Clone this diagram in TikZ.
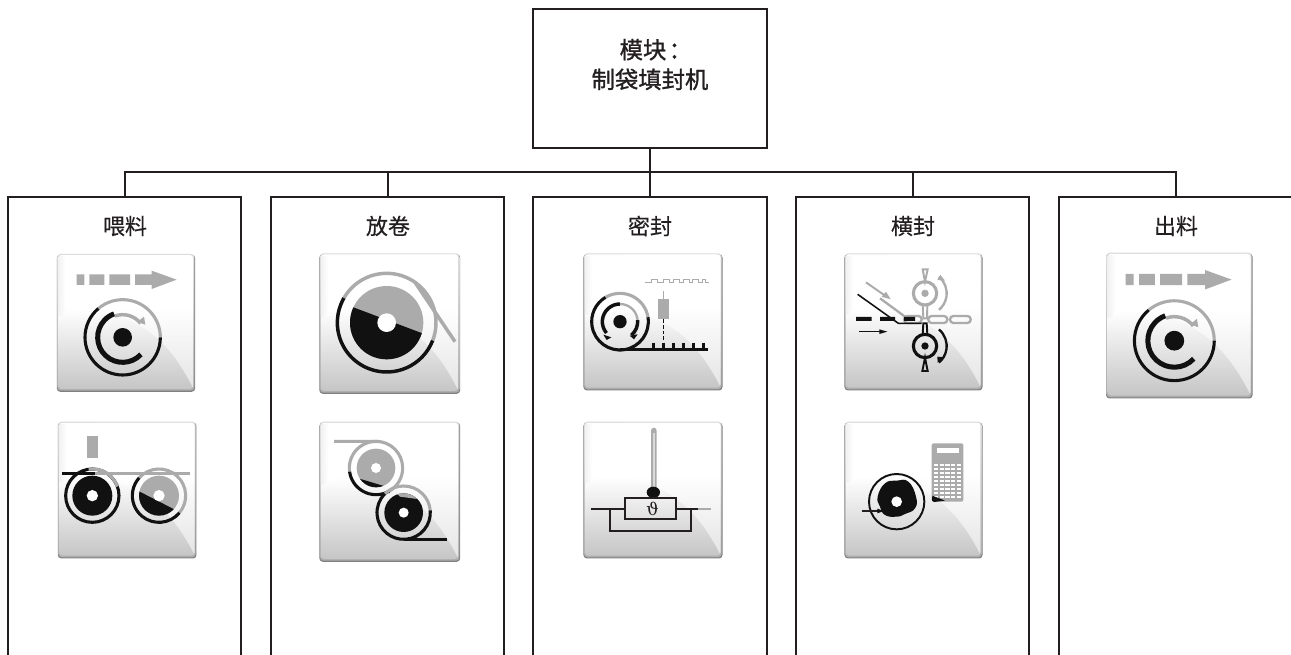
\documentclass[tikz,border=0pt]{standalone}
\usepackage{fontspec}
\setmainfont{Noto Sans CJK SC}
\newfontfamily\ttlfont[FakeBold=1.2]{Noto Sans CJK SC}
\newfontfamily\labfont[FakeBold=0.4]{Noto Sans CJK SC}
\newfontfamily\thetafont{DejaVu Serif}
\definecolor{ln}{HTML}{231F20}
\definecolor{ik}{HTML}{111111}
\definecolor{ig}{HTML}{ABABAB}
\pgfdeclareverticalshading{tileshade}{100bp}{color(0bp)=(black!23); color(25bp)=(black!23); color(55bp)=(white); color(100bp)=(white)}
\tikzset{
  zw/.style={line width=#1*0.29pt},
  col/.style={draw=ln,line width=1.5pt,minimum width=233*0.75pt,minimum height=520*0.75pt,anchor=north west,inner sep=0pt},
  lab/.style={font=\labfont\fontsize{16.5pt}{18pt}\selectfont,text=ln},
  zoomat/.style={shift={#1},x=0.25pt,y=-0.25pt},
}
% arc path fragment: centre x, y, radius, start, end (screen clockwise angles)
\newcommand\arcz[5]{(#1,#2) ++(#4:#3) arc[start angle=#4,end angle=#5,radius=#3]}
\newcommand\tile[4]{%
  \begin{scope}[shift={(#1,#2)},x=#3*0.25pt,y=-#4*0.25pt]
    \fill[black!50,rounded corners=2.5pt] (-0.004,0.006) rectangle (1.006,1.008);
    \shade[rounded corners=2.5pt,top color=black!14,bottom color=black!32] (0,0) rectangle (1,1);
    \begin{scope}
      \clip[rounded corners=2.5pt] (0.006,0.008) rectangle (0.992,0.988);
      \shade[shading=tileshade] (0,0) rectangle (1,1);
      \shade[left color=black!6,right color=white] (0,0.02) rectangle (0.06,0.45);
      \fill[white,opacity=.55] (0.3,0.42) .. controls (0.55,0.46) and (0.8,0.58) .. (1,1) -- (1,0) -- (0.3,0) -- cycle;
    \end{scope}
  \end{scope}}
\newcommand\feedart{%
  \fill[ig] (110,103) rectangle (133,135) (148,103) rectangle (193,135) (208,103) rectangle (270,135);
  \fill[ig] (285,103) -- (335,103) -- (335,92) -- (410,119) -- (335,147) -- (335,135) -- (285,135) -- cycle;
  \draw[ig,zw=8] \arcz{248}{292}{113}{230}{360};
  \draw[ik,zw=8] \arcz{248}{292}{113}{0}{230};
  \draw[ik,zw=13] \arcz{248}{292}{75}{43}{250};
  \draw[ig,zw=9] \arcz{248}{292}{68}{250}{322};
  \fill[ig] (316,254) -- (292,246) -- (312,230) -- cycle;
  \fill[ik] (248,292) circle (28);
}
\begin{document}
\begin{tikzpicture}[x=0.75pt,y=-0.75pt,line join=miter]
\useasboundingbox (0,0) rectangle (1291,655);
\clip (0,0) rectangle (1291,655);
\fill[white] (0,0) rectangle (1291,655);
% boxes
\node[draw=ln,line width=1.5pt,minimum width=234*0.75pt,minimum height=139*0.75pt,anchor=north west,inner sep=0pt] (top) at (532.3,8.3) {};
\node[col] (c1) at (7.3,196.3) {};
\node[col] (c2) at (270.3,196.3) {};
\node[col,minimum width=234*0.75pt] (c3) at (532.3,196.3) {};
\node[col] (c4) at (795.3,196.3) {};
\node[col] (c5) at (1058.3,196.3) {};
\coordinate (bus) at (650,172.5);
\draw[ln,line width=1.5pt] (top.south) -- (c3.north);
\draw[ln,line width=1.5pt] (c1.north) |- (bus) -| (c5.north);
\draw[ln,line width=1.5pt] (c2.north) -- (c2.north |- bus);
\draw[ln,line width=1.5pt] (c4.north) -- (c4.north |- bus);
% labels
\node[font=\ttlfont\fontsize{17.5pt}{22.3pt}\selectfont,text=ln,align=center,anchor=center] (ttl) at (650,64.5) {模块\hspace{.1em}\makebox[.5em][l]{：}\\制袋填封机};
\node[lab] (l1) at (125,226) {喂料};
\node[lab] (l2) at (388,226) {放卷};
\node[lab] (l3) at (650,226) {密封};
\node[lab] (l4) at (913,226) {横封};
\node[lab] (l5) at (1176,226) {出料};

% column 1
\begin{scope}[zoomat={(40,240)}]
\tile{52}{42}{411}{410}
\feedart
\tile{55}{545}{412}{407}
\fill[ig] (142,587) rectangle (175,654);
\fill[ik] (157,767) circle (60);
\fill[white] (157,767) circle (17);
\draw[ik,zw=8] (157,767) circle (80);
\draw[ig,zw=8] \arcz{157}{767}{80}{262}{340};
\fill[ig] (357,767) circle (60);
\begin{scope}\clip (270,740) -- (420,817) -- (420,850) -- (270,850) -- cycle;
\fill[ik] (357,767) circle (60);\end{scope}
\fill[white] (357,767) circle (17);
\draw[ig,zw=8] \arcz{357}{767}{80}{222}{400};
\draw[ik,zw=8] \arcz{357}{767}{80}{40}{222};
\draw[ig,zw=8] (160,700) -- (450,700);
\draw[ik,zw=8] (67,700) -- (165,700);
\end{scope}

% column 2
\begin{scope}[zoomat={(305,240)}]
\tile{45}{40}{418}{418}
\fill[ig] (245,248) circle (110);
\begin{scope}\clip (100,185) -- (400,298) -- (400,400) -- (100,400) -- cycle;
\fill[ik] (245,248) circle (110);\end{scope}
\fill[white] (245,248) circle (28);
\draw[ig,zw=9] \arcz{245}{248}{148}{210}{305} -- (450,305);
\draw[ik,zw=9] \arcz{245}{248}{148}{21}{210};
\draw[ig,zw=9] \arcz{245}{248}{148}{305}{381};
\tile{45}{545}{418}{417}
\fill[ig] (213,684) circle (58);
\begin{scope}\clip (130,706) -- (260,745) -- (260,760) -- (130,760) -- cycle;
\fill[ik] (213,684) circle (58);\end{scope}
\fill[white] (213,684) circle (15);
\draw[ig,zw=8] (87,604) -- (213,604) arc[start angle=270,end angle=420,radius=80];
\draw[ig,zw=8] \arcz{213}{684}{80}{172}{275};
\draw[ik,zw=8] \arcz{213}{684}{80}{60}{172};
\fill[ik] (296,818) circle (58);
\begin{scope}\clip (270,755) -- (345,755) -- (345,778) -- (285,770) -- cycle;
\fill[ig] (296,818) circle (58);\end{scope}
\fill[white] (296,818) circle (15);
\draw[ig,zw=8] \arcz{296}{818}{80}{225}{355};
\draw[ik,zw=8] \arcz{296}{818}{80}{355}{585};
\draw[ik,zw=8] (296,898) -- (425,898);
\end{scope}

% column 3
\begin{scope}[zoomat={(570,240)}]
\tile{42}{40}{413}{408}
\draw[ig,line width=.6pt] (225,127) -- (245,127) -- (245,117) -- (262,117) -- (262,127) -- (280,127) -- (280,117) -- (297,117) -- (297,127) -- (310,127) -- (310,117) -- (327,117) -- (327,127) -- (340,127) -- (340,117) -- (357,117) -- (357,127) -- (368,127) -- (368,117) -- (385,117) -- (385,127) -- (396,127) -- (396,117) -- (406,117) -- (406,127) -- (416,127);
\draw[ig,zw=4] (281,153) -- (281,178);
\fill[ig] (265,178) rectangle (297,238);
\draw[ik,zw=3,dash pattern=on 2.75pt off 1.5pt] (281,238) -- (281,305);
\draw[ik,zw=7] (150,328) -- (413,328);
\foreach \tx in {250,280,310,340,370,400} \draw[ik,zw=6] (\tx,308) -- (\tx,328);
\draw[ig,zw=8] \arcz{150}{245}{85}{239}{351};
\draw[ik,zw=8] \arcz{150}{245}{85}{351}{599};
\draw[ik,zw=9] \arcz{150}{245}{53}{140}{270};
\draw[ig,zw=6] \arcz{150}{245}{53}{270}{355};
\draw[ik,zw=9] \arcz{150}{245}{53}{355}{410};
\fill[ik] (100,284) -- (124,292) -- (110,300) -- cycle;
\fill[ik] (179,287) -- (203,283) -- (192,298) -- cycle;
\fill[ik] (150,245) circle (20);
\tile{42}{545}{413}{407}
\fill[ig] (243,572) arc[start angle=180,end angle=360,x radius=8.5,y radius=9] -- (260,745) -- (243,745) -- cycle;
\fill[black!15] (249,580) rectangle (254,745);
\fill[ik] (250,757) ellipse (20 and 17);
\draw[ln,zw=6] (165,775) rectangle (318,838);
\draw[ln,zw=5] (62,807) -- (165,807) (318,807) -- (385,807);
\draw[ig,zw=3] (385,807) -- (422,807);
\draw[ln,zw=5] (120,807) -- (120,873) -- (362,873) -- (362,807);
\node[text=ln,font=\thetafont\fontsize{13pt}{15pt}\selectfont,inner sep=0pt] (theta) at (248,806) {ϑ};
\end{scope}

% column 4
\begin{scope}[zoomat={(830,240)}]
\tile{45}{40}{410}{408}
\draw[ig,zw=6] (150,175) -- (225,230);
\draw[ig,zw=5] (108,127) -- (165,167);
\fill[ig] (182,178) -- (155,170) -- (168,155) -- cycle;
\foreach \xa/\xb in {222/275,295/352,360/422}
  \draw[ig,zw=6,rounded corners=2.5pt] (\xa,228) rectangle (\xb,249);
\fill[ik] (78,231) rectangle (125,243) (150,231) rectangle (195,243) (222,231) rectangle (255,243);
\draw[ik,zw=4] (83,163) -- (205,250) -- (275,250);
\draw[ig,zw=8] (285,160) circle (35);
\fill[ig] (285,160) circle (11);
\draw[ig,zw=5] (285,125) -- (278,88) -- (293,88) -- cycle;
\draw[ig,zw=5] (278,195) -- (280,235) -- (291,235) -- (292,195);
\draw[ig,zw=6] \arcz{285}{160}{65}{-50}{50};
\fill[ig] (322,120) -- (331,105) -- (345,122) -- cycle;
\draw[ik,zw=8] (285,318) circle (35);
\fill[ik] (285,318) circle (11);
\draw[ik,zw=5] (285,353) -- (277,393) -- (293,393) -- cycle;
\draw[ik,zw=5] (278,283) -- (280,250) -- (290,250) -- (292,283);
\draw[ik,zw=6] \arcz{285}{318}{65}{-50}{50};
\fill[ik] (345,352) -- (323,368) -- (322,350) -- cycle;
\draw[ik,zw=4] (87,275) -- (150,275);
\fill[ik] (172,275) -- (148,268) -- (148,282) -- cycle;
\tile{45}{545}{410}{407}
\fill[ig,rounded corners=1.5pt] (305,610) rectangle (400,785);
\fill[white] (320,625) rectangle (388,640);
\foreach \rr in {0,...,8} \foreach \cc in {0,...,4}
  \fill[white] ({312+\cc*17},{671+\rr*12}) rectangle ++(13,8);
\fill[ik] (307,767) -- (345,782) -- (312,786) -- (306,782) -- cycle;
\draw[ik,zw=5] (200,785) circle (83);
\fill[ik] plot[smooth cycle,tension=.8] coordinates {(200,722) (235,725) (258,770) (255,805) (225,822) (200,830) (165,825) (150,800) (143,770) (165,730)};
\fill[white] (200,785) circle (16);
\draw[ln,zw=3] (95,813) -- (145,813);
\fill[ik] (162,813) -- (142,806) -- (142,820) -- cycle;
\end{scope}

% column 5
\begin{scope}[zoomat={(1095,240)}]
\tile{35}{38}{435}{434}
\end{scope}
\begin{scope}[shift={(1095,240)},x=0.265pt,y=-0.265pt,shift={(-23.5,-7)}]
\feedart
\end{scope}
\end{tikzpicture}
\end{document}
